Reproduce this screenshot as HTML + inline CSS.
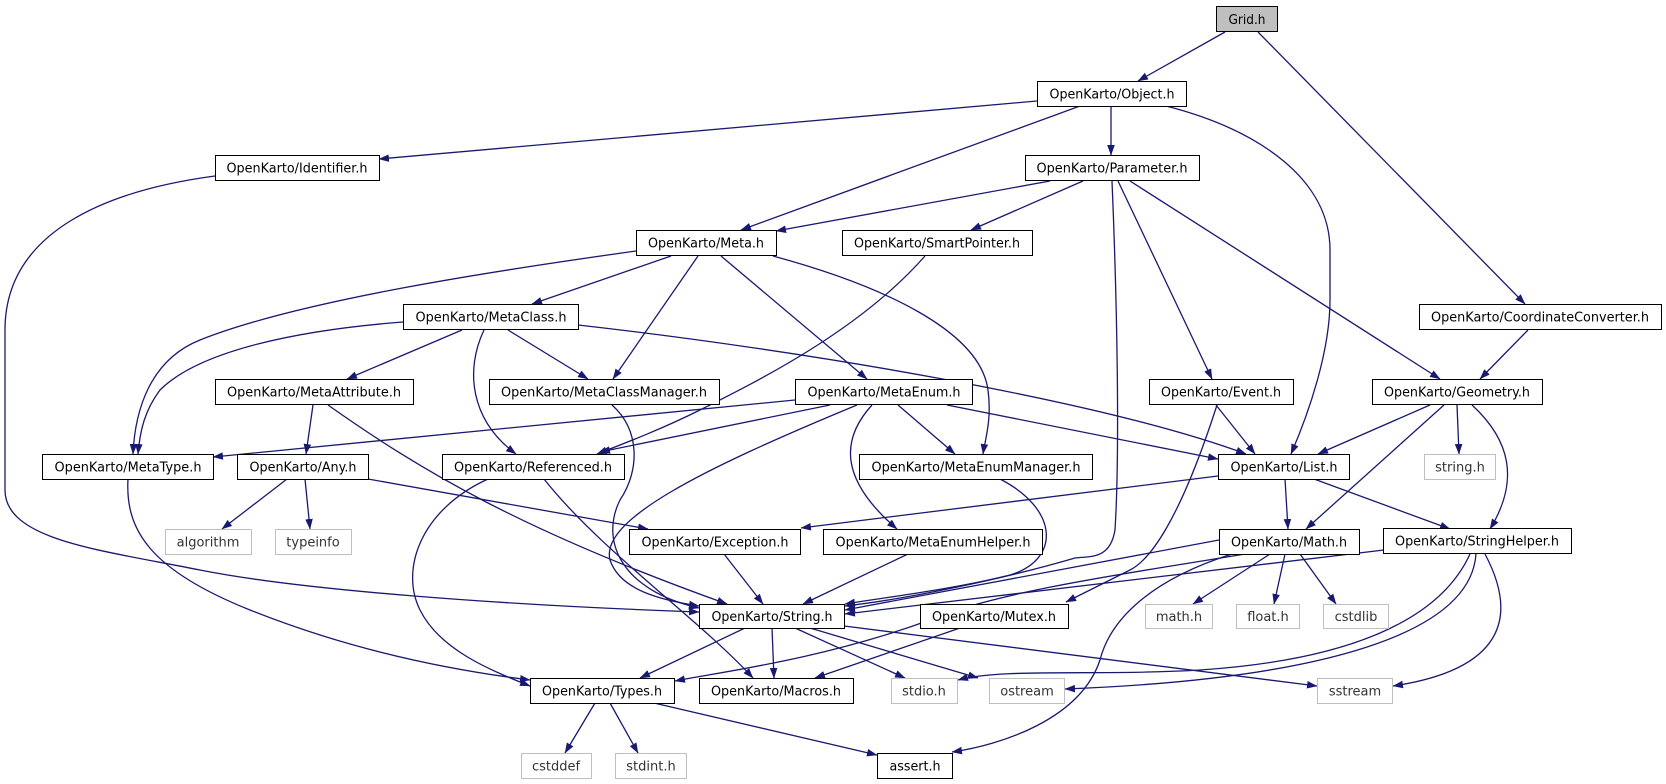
<!DOCTYPE html>
<html><head><meta charset="utf-8"><style>
html,body{margin:0;padding:0;background:#fff;}
svg{display:block;}
text{font-family:"DejaVu Sans","Liberation Sans",sans-serif;font-size:13px;fill:#000;}
.g text{fill:#333;}
</style></head><body>
<svg width="1666" height="784" viewBox="0 0 1666 784" xmlns="http://www.w3.org/2000/svg">
<defs><marker id="a" markerWidth="11" markerHeight="8" refX="10" refY="3.8" orient="auto" markerUnits="userSpaceOnUse"><path d="M0,0 L10.5,3.8 L0,7.6 z" fill="#191970"/></marker></defs>
<g fill="none" stroke="#191970" stroke-width="1.3" marker-end="url(#a)">
<path d="M1225,32 L1138,81"/>
<path d="M1258,32 L1525,304"/>
<path d="M1037,101 L379,159"/>
<path d="M1080,106 L741,230"/>
<path d="M1111,106 L1111,155"/>
<path d="M1166,106 C1260,130 1330,180 1330,250 L1330,300 C1330,350 1310,410 1291,454"/>
<path d="M215,176 C110,190 5,230 5,330 L5,490 C5,540 100,550 200,570 C300,590 500,605 699,612"/>
<path d="M1050,181 L776,231"/>
<path d="M1083,181 L971,230"/>
<path d="M1112,181 C1117,300 1120,450 1115,530 C1110,560 1090,556 1075,558 C1000,580 900,600 845,606"/>
<path d="M1118,181 L1212,379"/>
<path d="M1130,181 L1440,379"/>
<path d="M636,251 C500,270 300,300 200,340 C150,360 135,410 133,454"/>
<path d="M671,256 L532,304"/>
<path d="M698,256 L613,379"/>
<path d="M721,256 L867,379"/>
<path d="M773,256 C880,285 980,330 988,390 C992,420 985,440 983,454"/>
<path d="M925,256 C860,330 760,380 700,410 C660,430 620,445 597,454"/>
<path d="M1528,330 L1480,379"/>
<path d="M403,322 C300,330 200,350 160,390 C145,410 140,430 138,454"/>
<path d="M462,330 L347,379"/>
<path d="M484,330 C465,370 470,420 516,454"/>
<path d="M508,330 L588,379"/>
<path d="M578,325 C800,350 1100,400 1246,454"/>
<path d="M313,405 L306,454"/>
<path d="M328,405 C420,470 520,530 727,604"/>
<path d="M612,405 C640,430 640,470 620,500 C600,540 620,590 699,608"/>
<path d="M795,400 L213,457"/>
<path d="M830,405 L600,452"/>
<path d="M857,405 C700,470 600,520 610,560 C620,590 660,600 699,606"/>
<path d="M872,405 C840,440 840,480 897,529"/>
<path d="M898,405 L955,454"/>
<path d="M947,405 L1218,459"/>
<path d="M1216,405 L1255,454"/>
<path d="M1217,405 C1180,520 1150,560 1130,570 C1100,585 1080,595 1066,602"/>
<path d="M1430,405 L1318,454"/>
<path d="M1457,405 L1459,454"/>
<path d="M1444,405 L1306,529"/>
<path d="M1472,405 C1510,440 1520,480 1490,529"/>
<path d="M128,479 C125,530 150,570 250,610 C350,650 450,670 530,680"/>
<path d="M287,479 L222,529"/>
<path d="M305,479 L310,529"/>
<path d="M368,479 L648,529"/>
<path d="M488,479 C420,510 400,570 420,610 C440,650 490,670 530,686"/>
<path d="M544,479 C600,550 700,620 753,678"/>
<path d="M1000,479 C1060,510 1060,560 1010,575 C950,590 880,598 845,604"/>
<path d="M1218,476 L801,528"/>
<path d="M1285,479 L1288,529"/>
<path d="M1314,479 L1450,529"/>
<path d="M724,554 L763,604"/>
<path d="M908,554 L803,604"/>
<path d="M1219,540 L845,610"/>
<path d="M1245,554 C1150,570 1000,590 930,620 C820,660 720,672 675,681"/>
<path d="M1270,554 L1193,604"/>
<path d="M1285,554 L1274,604"/>
<path d="M1300,554 L1336,604"/>
<path d="M1232,554 C1150,580 1110,620 1100,660 C1080,720 1000,745 952,752"/>
<path d="M1384,550 L845,614"/>
<path d="M1470,554 C1440,620 1350,660 1200,670 C1100,676 1000,668 958,680"/>
<path d="M1476,554 C1470,640 1300,680 1065,689"/>
<path d="M1485,554 C1520,620 1500,670 1393,686"/>
<path d="M745,628 L640,678"/>
<path d="M772,628 L774,678"/>
<path d="M795,628 L905,678"/>
<path d="M810,628 L978,678"/>
<path d="M844,626 L1317,686"/>
<path d="M960,628 L815,678"/>
<path d="M595,703 L565,753"/>
<path d="M610,703 L638,753"/>
<path d="M654,703 L877,755"/>
</g>
<g stroke="#000" stroke-width="1">
<rect x="1216.5" y="6.5" width="61" height="25" fill="#bfbfbf"/>
</g>
<g fill="#fff" stroke="#000" stroke-width="1">
<rect x="1037.5" y="81.5" width="149" height="25"/>
<rect x="215.5" y="155.5" width="164" height="25"/>
<rect x="1025.5" y="155.5" width="174" height="25"/>
<rect x="636.5" y="230.5" width="140" height="25"/>
<rect x="842.5" y="230.5" width="190" height="25"/>
<rect x="403.5" y="304.5" width="175" height="25"/>
<rect x="1419.5" y="304.5" width="242" height="25"/>
<rect x="215.5" y="379.5" width="198" height="25"/>
<rect x="489.5" y="379.5" width="230" height="25"/>
<rect x="795.5" y="379.5" width="177" height="25"/>
<rect x="1149.5" y="379.5" width="144" height="25"/>
<rect x="1372.5" y="379.5" width="170" height="25"/>
<rect x="42.5" y="454.5" width="171" height="25"/>
<rect x="237.5" y="454.5" width="131" height="25"/>
<rect x="442.5" y="454.5" width="182" height="25"/>
<rect x="859.5" y="454.5" width="233" height="25"/>
<rect x="1218.5" y="454.5" width="131" height="25"/>
<rect x="629.5" y="529.5" width="171" height="25"/>
<rect x="823.5" y="529.5" width="219" height="25"/>
<rect x="1219.5" y="529.5" width="140" height="25"/>
<rect x="1383.5" y="528.5" width="188" height="25"/>
<rect x="699.5" y="604.5" width="145" height="24"/>
<rect x="920.5" y="604.5" width="148" height="24"/>
<rect x="530.5" y="678.5" width="144" height="25"/>
<rect x="699.5" y="678.5" width="154" height="25"/>
<rect x="877.5" y="753.5" width="75" height="25"/>
</g>
<g fill="#fff" stroke="#bfbfbf" stroke-width="1">
<rect x="1424.5" y="454.5" width="71" height="25"/>
<rect x="165.5" y="529.5" width="86" height="25"/>
<rect x="275.5" y="529.5" width="76" height="25"/>
<rect x="1145.5" y="604.5" width="67" height="24"/>
<rect x="1236.5" y="604.5" width="63" height="24"/>
<rect x="1323.5" y="604.5" width="65" height="24"/>
<rect x="891.5" y="678.5" width="66" height="25"/>
<rect x="989.5" y="678.5" width="75" height="25"/>
<rect x="1317.5" y="678.5" width="75" height="25"/>
<rect x="521.5" y="753.5" width="70" height="25"/>
<rect x="615.5" y="753.5" width="71" height="25"/>
</g>
<g text-anchor="middle" lengthAdjust="spacingAndGlyphs">
<text x="1247" y="24" textLength="37" lengthAdjust="spacingAndGlyphs">Grid.h</text>
<text x="1112" y="98.5" textLength="125" lengthAdjust="spacingAndGlyphs">OpenKarto/Object.h</text>
<text x="297" y="172.5" textLength="141" lengthAdjust="spacingAndGlyphs">OpenKarto/Identifier.h</text>
<text x="1112" y="172.5" textLength="151" lengthAdjust="spacingAndGlyphs">OpenKarto/Parameter.h</text>
<text x="706" y="247.5" textLength="116" lengthAdjust="spacingAndGlyphs">OpenKarto/Meta.h</text>
<text x="937" y="247.5" textLength="166" lengthAdjust="spacingAndGlyphs">OpenKarto/SmartPointer.h</text>
<text x="491" y="321.5" textLength="151" lengthAdjust="spacingAndGlyphs">OpenKarto/MetaClass.h</text>
<text x="1540" y="321.5" textLength="218" lengthAdjust="spacingAndGlyphs">OpenKarto/CoordinateConverter.h</text>
<text x="314" y="396.5" textLength="174" lengthAdjust="spacingAndGlyphs">OpenKarto/MetaAttribute.h</text>
<text x="604" y="396.5" textLength="206" lengthAdjust="spacingAndGlyphs">OpenKarto/MetaClassManager.h</text>
<text x="884" y="396.5" textLength="153" lengthAdjust="spacingAndGlyphs">OpenKarto/MetaEnum.h</text>
<text x="1221" y="396.5" textLength="120" lengthAdjust="spacingAndGlyphs">OpenKarto/Event.h</text>
<text x="1457" y="396.5" textLength="146" lengthAdjust="spacingAndGlyphs">OpenKarto/Geometry.h</text>
<text x="128" y="471.5" textLength="147" lengthAdjust="spacingAndGlyphs">OpenKarto/MetaType.h</text>
<text x="303" y="471.5" textLength="107" lengthAdjust="spacingAndGlyphs">OpenKarto/Any.h</text>
<text x="533" y="471.5" textLength="158" lengthAdjust="spacingAndGlyphs">OpenKarto/Referenced.h</text>
<text x="976" y="471.5" textLength="209" lengthAdjust="spacingAndGlyphs">OpenKarto/MetaEnumManager.h</text>
<text x="1284" y="471.5" textLength="107" lengthAdjust="spacingAndGlyphs">OpenKarto/List.h</text>
<text x="715" y="546.5" textLength="147" lengthAdjust="spacingAndGlyphs">OpenKarto/Exception.h</text>
<text x="933" y="546.5" textLength="195" lengthAdjust="spacingAndGlyphs">OpenKarto/MetaEnumHelper.h</text>
<text x="1289" y="546.5" textLength="116" lengthAdjust="spacingAndGlyphs">OpenKarto/Math.h</text>
<text x="1477" y="545.5" textLength="164" lengthAdjust="spacingAndGlyphs">OpenKarto/StringHelper.h</text>
<text x="772" y="621" textLength="121" lengthAdjust="spacingAndGlyphs">OpenKarto/String.h</text>
<text x="994" y="621" textLength="124" lengthAdjust="spacingAndGlyphs">OpenKarto/Mutex.h</text>
<text x="602" y="695.5" textLength="120" lengthAdjust="spacingAndGlyphs">OpenKarto/Types.h</text>
<text x="776" y="695.5" textLength="130" lengthAdjust="spacingAndGlyphs">OpenKarto/Macros.h</text>
<text x="915" y="770.5" textLength="51" lengthAdjust="spacingAndGlyphs">assert.h</text>
</g>
<g class="g" text-anchor="middle">
<text x="1460" y="471.5">string.h</text>
<text x="208" y="546.5">algorithm</text>
<text x="313" y="546.5">typeinfo</text>
<text x="1179" y="621">math.h</text>
<text x="1268" y="621">float.h</text>
<text x="1356" y="621">cstdlib</text>
<text x="924" y="695.5">stdio.h</text>
<text x="1027" y="695.5">ostream</text>
<text x="1355" y="695.5">sstream</text>
<text x="556" y="770.5">cstddef</text>
<text x="651" y="770.5">stdint.h</text>
</g>
</svg>
</body></html>
